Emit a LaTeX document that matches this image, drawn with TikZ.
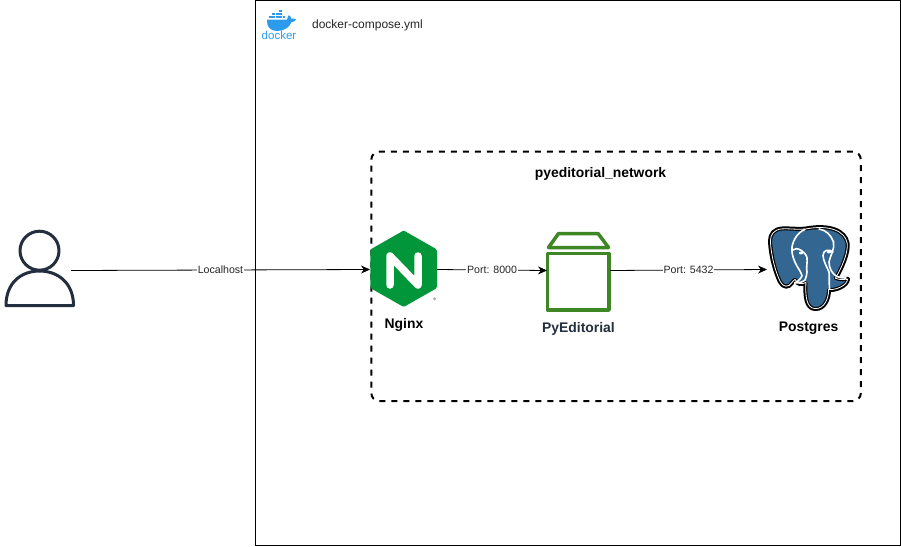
\documentclass[tikz,border=0pt]{standalone}
\usepackage{fontspec}
\setmainfont{Liberation Sans}
\usetikzlibrary{arrows.meta}
\definecolor{ngreen}{HTML}{009639}
\definecolor{pkgreen}{HTML}{3F8624}
\definecolor{awsdark}{HTML}{232F3E}
\definecolor{pgblue}{HTML}{336791}
\definecolor{dockblue}{HTML}{2C9BEC}
\tikzset{
  iconbox/.style={minimum width=#1,inner sep=0pt,outer sep=0pt},
  conn/.style={draw=black,line width=0.8pt,-{Stealth[length=9pt,width=8pt]}},
  clabel/.style={fill=white,inner sep=0.6pt,font=\fontsize{10.6}{13}\selectfont,text=black!85},
  title/.style={font=\fontsize{13.9}{16}\selectfont\bfseries,inner sep=0pt},
  pkg/.style={draw=pkgreen,line width=3.5pt,line join=round,line cap=round},
  usr/.style={draw=awsdark,line width=3pt,line join=round},
  pgline/.style={white,line width=1.6pt,line cap=round,line join=round},
}
\newcommand{\pgoutline}{(806,228.5)
 .. controls (797,229.5) and (790,228) .. (782,228.5)
 .. controls (774,229) and (770,234) .. (770,241)
 .. controls (770.5,255) and (775,272) .. (780,282)
 .. controls (783,288) and (789,288) .. (792,283)
 .. controls (793,281.5) and (794,280.5) .. (795,280)
 .. controls (797,284.5) and (802,285) .. (805.5,283)
 .. controls (805,295) and (805.5,308.5) .. (815,309)
 .. controls (825,309.5) and (829,298) .. (829,290)
 .. controls (836,290.5) and (847.5,286) .. (848,279)
 .. controls (845,278.5) and (840,280) .. (836,278)
 .. controls (842,268) and (849,252) .. (847.5,243)
 .. controls (845.5,231) and (830,224) .. (806,228.5) -- cycle}
\begin{document}
\begin{tikzpicture}[x=1pt,y=-1pt]
\useasboundingbox (0,0) rectangle (901,546);
\fill[white] (0,0) rectangle (901,546);
% outer compose box
\node[draw=black,line width=0.9pt,inner sep=0pt,minimum width=645pt,minimum height=545pt,anchor=north west] (compose) at (254.8,0.4) {};
% network box
\node[draw=black,line width=2pt,dash pattern=on 6pt off 6pt,rounded corners=8pt,inner sep=0pt,minimum width=489.5pt,minimum height=249.5pt,anchor=north west] (network) at (370.3,150.6) {};
\node[title] (nettitle) at (600.5,174) {pyeditorial\_network};
\node[font=\fontsize{12}{14}\selectfont,inner sep=0pt,text=black!85] (composetitle) at (367.5,25) {docker-compose.yml};
% anchor nodes for the icons
\node[iconbox=62pt,minimum height=76pt] (user) at (40,270.5) {};
\node[iconbox=67pt,minimum height=76pt] (nginx) at (403.5,269.5) {};
\node[iconbox=63pt,minimum height=76pt] (pyed) at (578.5,270.5) {};
\node[iconbox=85pt,minimum height=85pt] (pg) at (809.5,269.5) {};
% docker logo
\begin{scope}
\fill[dockblue] (267,19.6) -- (287,19.6) .. controls (287.3,17) and (288.3,16) .. (289,15.2) .. controls (290.3,16) and (291,17.3) .. (291.1,18.6) .. controls (292.6,18.2) and (294.5,18.4) .. (296,19.6) .. controls (295,21.3) and (293.3,22) .. (291.5,22) .. controls (289.5,27.5) and (284,31) .. (277,31) .. controls (270,31) and (266.5,26.5) .. (267,19.6) -- cycle;
\foreach \xa/\ya in {269/15.8,272.4/15.8,275.8/15.8,279.2/15.8,272.4/12.6,275.8/12.6,279.2/12.6,279.2/9.8,282.6/15.8}
  \fill[dockblue] (\xa,\ya) rectangle +(2.7,2.5);
\node[inner sep=0pt,text=dockblue,font=\fontsize{11.5}{13}\selectfont] (dockertext) at (279,35.5) {docker};
\end{scope}
% user
\draw[usr] (39.5,250.7) circle (19.5);
\draw[usr] (6,305.5) .. controls (6,283) and (21,271) .. (39.5,271) .. controls (58,271) and (73.5,283) .. (73.5,305.5) -- cycle;
% nginx
\fill[ngreen,rounded corners=1.5pt] (403.7,230.5) -- (437,249.5) -- (437,288) -- (403.7,307) -- (370.3,288) -- (370.3,249.5) -- cycle;
\draw[white,line width=7.5pt,line cap=round,line join=round] (390,285) -- (390,256) -- (418,285) -- (418,256);
\fill[gray!60] (434.5,298.8) circle (1.7);
\node[title] (nginxlabel) at (404,324.5) {Nginx};
% package
\draw[pkg] (548.5,247.5) -- (558.5,233.5) -- (598,233.5) -- (608.5,247.5) -- cycle;
\draw[pkg] (547.5,253.5) rectangle (609,310);
\node[title,text=awsdark] (pylabel) at (578.5,328.5) {PyEditorial};
% postgres
\path[fill=pgblue,draw=black,line width=4pt,line join=round] \pgoutline;
\begin{scope}
\clip \pgoutline;
\draw[white,line width=1.6pt] \pgoutline;
\end{scope}
\draw[pgline] (805,229.5) .. controls (798,232) and (793,240) .. (792,247)
 .. controls (791,256) and (796,265) .. (800,271)
 .. controls (801,273.5) and (802,275) .. (802,276)
 .. controls (800,280) and (797,282) .. (794.5,283)
 .. controls (799,283) and (803,282) .. (805,280)
 .. controls (806,277) and (807,275) .. (807,272)
 .. controls (806,268) and (807.5,263) .. (807,258)
 .. controls (806,252) and (797,246) .. (792.5,250);
\draw[pgline] (819,229) .. controls (826,230) and (831,235) .. (833.5,242)
 .. controls (835,249) and (830,256) .. (829,262)
 .. controls (829,268) and (832,274) .. (837,276.5)
 .. controls (839,277.5) and (842,278) .. (846,278);
\draw[pgline] (833,252) .. controls (829,248.5) and (823,250) .. (823,255.5)
 .. controls (823.5,262) and (827,267) .. (829,272)
 .. controls (829.5,277) and (829,283) .. (829.5,289);
\fill[white] (801,253) ellipse (2.2 and 1.4);
\fill[white] (829,252) ellipse (2.2 and 1.4);
\node[title] (pglabel) at (808.5,328.5) {Postgres};
% connectors
\draw[conn] (user.east) -- (nginx.west) node[midway,clabel] (l1) {Localhost};
\draw[conn] (nginx.east) -- (pyed.west) node[pos=0.5,clabel] (l2) {Port: 8000};
\draw[conn] (pyed.east) -- (pg.west) node[pos=0.5,clabel] (l3) {Port: 5432};
\end{tikzpicture}
\end{document}
